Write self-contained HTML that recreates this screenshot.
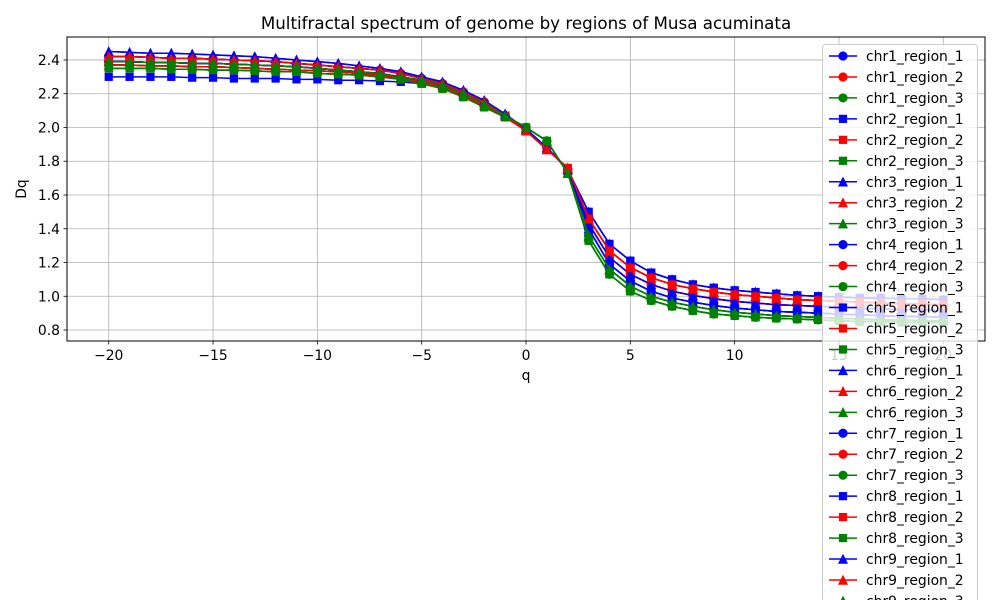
<!DOCTYPE html>
<html><head><meta charset="utf-8"><style>
html,body{margin:0;padding:0;background:#fff;width:1000px;height:600px;overflow:hidden;}
svg{display:block;}
svg text{font-family:"DejaVu Sans","Liberation Sans",sans-serif;fill:#000;}
</style></head><body>
<svg id="chart" width="1000" height="600" xmlns="http://www.w3.org/2000/svg">
<rect width="1000" height="600" fill="#fff"/>
<g id="grid"></g>
<g id="plot"></g>
<rect x="67" y="37" width="918" height="304" fill="none" stroke="#000" stroke-width="1"/>
<g id="ticks"></g>
<text x="526" y="29" font-size="16.7" text-anchor="middle">Multifractal spectrum of genome by regions of Musa acuminata</text>
<text x="526" y="380" font-size="13.9" text-anchor="middle">q</text>
<text x="26" y="189" font-size="13.9" text-anchor="middle" transform="rotate(-90 26 189)">Dq</text>
<g id="legend"></g>
</svg>
<script>
const qValues = [-20,-19,-18,-17,-16,-15,-14,-13,-12,-11,-10,-9,-8,-7,-6,-5,-4,-3,-2,-1,0,1,2,3,4,5,6,7,8,9,10,11,12,13,14,15,16,17,18,19,20];
const xTicks = [-20,-15,-10,-5,0,5,10,15,20];
const xTickLabels = ["−20","−15","−10","−5","0","5","10","15","20"];
const yTicks = [0.8,1.0,1.2,1.4,1.6,1.8,2.0,2.2,2.4];
const yTickLabels = ["0.8","1.0","1.2","1.4","1.6","1.8","2.0","2.2","2.4"];
// left branch profiles (q=-20..-1)
const LA=[2.45,2.445,2.44,2.44,2.435,2.43,2.425,2.42,2.41,2.40,2.39,2.38,2.365,2.35,2.33,2.30,2.27,2.22,2.16,2.08];
const LB=[2.42,2.42,2.415,2.41,2.41,2.405,2.40,2.395,2.39,2.38,2.37,2.36,2.35,2.34,2.32,2.29,2.26,2.21,2.15,2.07];
const LC=[2.39,2.39,2.385,2.385,2.38,2.38,2.375,2.37,2.365,2.36,2.35,2.34,2.33,2.32,2.30,2.28,2.25,2.20,2.14,2.07];
const LD=[2.37,2.37,2.365,2.365,2.36,2.36,2.355,2.35,2.345,2.34,2.335,2.33,2.32,2.31,2.29,2.27,2.24,2.19,2.13,2.07];
const LE=[2.35,2.35,2.35,2.345,2.345,2.34,2.34,2.335,2.33,2.33,2.32,2.315,2.31,2.30,2.285,2.26,2.23,2.18,2.12,2.06];
const LF=[2.30,2.30,2.30,2.30,2.295,2.295,2.29,2.29,2.29,2.285,2.285,2.28,2.28,2.275,2.27,2.26,2.24,2.19,2.13,2.07];
// center (q=0..2)
const C1=[1.99,1.88,1.75];
const C2=[2.00,1.92,1.73];
const C3=[1.98,1.87,1.76];
// right branch (q=3..20)
const RA=[1.50,1.31,1.21,1.14,1.10,1.07,1.05,1.035,1.025,1.015,1.005,1.0,0.995,0.99,0.99,0.985,0.985,0.98];
const RB=[1.46,1.27,1.17,1.11,1.07,1.045,1.025,1.01,1.00,0.99,0.98,0.975,0.97,0.965,0.96,0.955,0.955,0.95];
const RC=[1.43,1.23,1.13,1.07,1.03,1.005,0.985,0.97,0.96,0.95,0.945,0.94,0.935,0.93,0.925,0.92,0.92,0.915];
const RD=[1.40,1.19,1.09,1.03,0.99,0.965,0.945,0.93,0.92,0.91,0.905,0.90,0.895,0.89,0.885,0.88,0.88,0.875];
const RE=[1.33,1.13,1.03,0.975,0.94,0.915,0.895,0.885,0.875,0.87,0.865,0.86,0.855,0.85,0.85,0.845,0.845,0.845];
const RF=[1.36,1.16,1.06,1.00,0.965,0.94,0.92,0.905,0.895,0.885,0.88,0.875,0.87,0.865,0.86,0.86,0.855,0.855];
const seriesNames = [];
for (let c=1;c<=9;c++) for (let r=1;r<=3;r++) seriesNames.push("chr"+c+"_region_"+r);
const seriesValues = [
 [...LB,...C1,...RC],[...LB,...C1,...RB],[...LC,...C2,...RF],
 [...LF,...C1,...RA],[...LD,...C1,...RB],[...LE,...C2,...RE],
 [...LA,...C1,...RA],[...LB,...C3,...RB],[...LC,...C2,...RF],
 [...LC,...C1,...RD],[...LB,...C1,...RC],[...LD,...C2,...RE],
 [...LC,...C1,...RA],[...LE,...C3,...RB],[...LD,...C2,...RE],
 [...LB,...C1,...RD],[...LC,...C3,...RB],[...LD,...C2,...RF],
 [...LC,...C1,...RD],[...LD,...C1,...RC],[...LC,...C2,...RF],
 [...LC,...C1,...RD],[...LD,...C3,...RC],[...LE,...C2,...RE],
 [...LA,...C1,...RC],[...LB,...C3,...RB],[...LC,...C2,...RF]
];
const NS="http://www.w3.org/2000/svg";
const X0=67,X1=985,Y0=37,Y1=341,XMIN=-22,XMAX=22,YMIN=0.735,YMAX=2.536;
const xs=q=>X0+(q-XMIN)/(XMAX-XMIN)*(X1-X0);
const ys=v=>Y1-(v-YMIN)/(YMAX-YMIN)*(Y1-Y0);
function mk(tag,attrs,parent){const e=document.createElementNS(NS,tag);for(const k in attrs)e.setAttribute(k,attrs[k]);parent.appendChild(e);return e;}
const colors=["#0000ff","#ff0000","#008000"];
const markers=["o","s","^"];
function marker(type,x,y,col,parent){
  let e;
  if(type==="o") e=mk("circle",{cx:x,cy:y,r:4.1,fill:col,stroke:col,"stroke-width":1},parent);
  else if(type==="s") e=mk("rect",{x:x-3.6,y:y-3.6,width:7.2,height:7.2,fill:col,stroke:col,"stroke-width":1},parent);
  else e=mk("polygon",{points:`${x},${y-4.2} ${x-4.2},${y+4.2} ${x+4.2},${y+4.2}`,fill:col,stroke:col,"stroke-width":1},parent);
  return e;
}
const grid=document.getElementById("grid");
xTicks.forEach((t,i)=>{const l=mk("line",{x1:xs(t),x2:xs(t),y1:Y0,y2:Y1,stroke:"#b0b0b0","stroke-width":0.8},grid);

});
yTicks.forEach((t,i)=>{const l=mk("line",{x1:X0,x2:X1,y1:ys(t),y2:ys(t),stroke:"#b0b0b0","stroke-width":0.8},grid);

});
const ticks=document.getElementById("ticks");
xTicks.forEach((t,i)=>{mk("line",{x1:xs(t),x2:xs(t),y1:Y1,y2:Y1+3.5,stroke:"#000","stroke-width":0.8},ticks);
const tx=mk("text",{x:xs(t),y:Y1+19,"font-size":13.9,"text-anchor":"middle"},ticks);tx.textContent=xTickLabels[i];

});
yTicks.forEach((t,i)=>{mk("line",{x1:X0-3.5,x2:X0,y1:ys(t),y2:ys(t),stroke:"#000","stroke-width":0.8},ticks);
const tx=mk("text",{x:X0-7,y:ys(t)+5,"font-size":13.9,"text-anchor":"end"},ticks);tx.textContent=yTickLabels[i];

});
const plot=document.getElementById("plot");
seriesValues.forEach((vals,si)=>{
  const col=colors[si%3], m=markers[Math.floor(si/3)%3];
  const g=mk("g",{},plot);
  
  
  mk("polyline",{points:vals.map((v,i)=>xs(qValues[i])+","+ys(v)).join(" "),fill:"none",stroke:col,"stroke-width":1.5,"stroke-linejoin":"round"},g);
  vals.forEach((v,i)=>{const p=marker(m,xs(qValues[i]),ys(v),col,g);
  
  });
});
const leg=document.getElementById("legend");
const lb=mk("rect",{x:822.5,y:44.5,width:155,height:570,rx:3,fill:"rgba(255,255,255,0.8)",stroke:"#cccccc","stroke-width":1},leg);


seriesNames.forEach((n,si)=>{
  const col=colors[si%3], m=markers[Math.floor(si/3)%3], y=56+si*20.96;
  if (y>610) return;
  const g=mk("g",{},leg);
  
  
  mk("line",{x1:829,x2:857,y1:y,y2:y,stroke:col,"stroke-width":1.5},g);
  marker(m,843,y,col,g);
  const t=mk("text",{x:866,y:y+5,"font-size":13.9},g);t.textContent=n;
});
</script>
</body></html>
